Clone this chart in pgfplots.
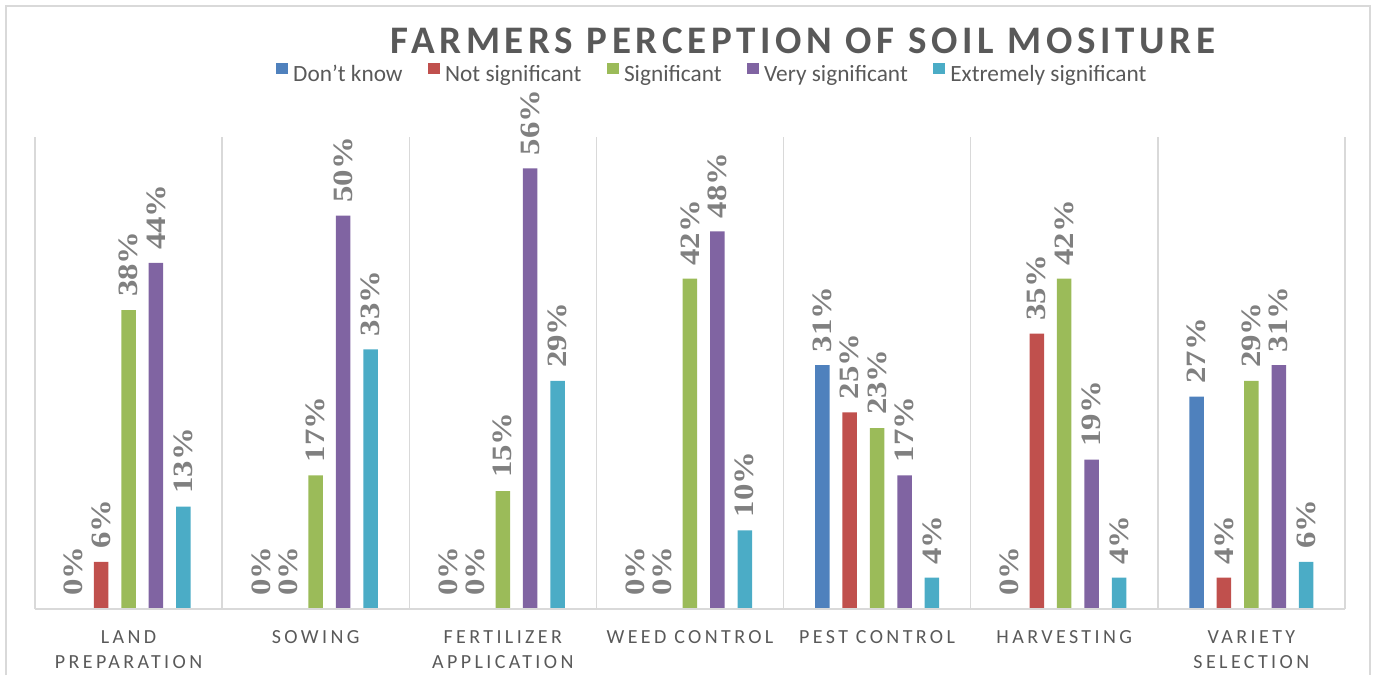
\documentclass[border=0pt]{standalone}
\usepackage{pgfplots}
\usepackage{pgfplotstable}
\pgfplotsset{compat=1.18}
\usepackage{fontspec}
\setmainfont{Carlito}
\newfontfamily\titlefont{Carlito}[LetterSpace=12]
\newfontfamily\catfont{Carlito}[LetterSpace=17]
\newfontfamily\valfont{Liberation Serif}

\definecolor{cBlue}{HTML}{4F81BD}
\definecolor{cRed}{HTML}{C0504D}
\definecolor{cGreen}{HTML}{9BBB59}
\definecolor{cPurple}{HTML}{8064A2}
\definecolor{cCyan}{HTML}{4BACC6}
\definecolor{txtgray}{HTML}{595959}
\definecolor{valgray}{HTML}{808080}
\definecolor{gridgray}{HTML}{D9D9D9}

% share of farmers (%) per activity
\pgfplotstableread{
cat dk ns sig vs es
0   0  6  38  44 13
1   0  0  17  50 33
2   0  0  15  56 29
3   0  0  42  48 10
4   31 25 23  17 4
5   0  35 42  19 4
6   27 4  29  31 6
}\soildata

\begin{document}
\begin{tikzpicture}
\path[use as bounding box] (-35pt,-66pt) rectangle (1338pt,609pt);
\draw[gridgray, line width=1.5pt] (-29pt,-66pt) -- (-29pt,603pt) -- (1335pt,603pt) -- (1335pt,-66pt);
\begin{axis}[
  at={(0pt,0pt)}, anchor=south west,
  scale only axis, width=1310pt, height=472pt,
  ybar=12.9pt, bar width=14.5pt,
  xmin=-0.5, xmax=6.5, ymin=0, ymax=60,
  axis line style={draw=none},
  ytick=\empty,
  xtick={0,...,6},
  minor xtick={-0.5,0.5,...,6.5},
  xminorgrids=true,
  minor x grid style={gridgray, line width=1.5pt},
  major tick length=0pt, minor tick length=0pt,
  xticklabels={{LAND\\PREPARATION},{SOWING},{FERTILIZER\\APPLICATION},{WEED CONTROL},{PEST CONTROL},{HARVESTING},{VARIETY\\SELECTION}},
  xticklabel style={align=center, inner sep=0pt, yshift=-21pt,
    font=\catfont\fontsize{20}{25}\selectfont, text=txtgray},
  /pgf/number format/assume math mode=true,
  nodes near coords={\pgfmathprintnumber{\pgfplotspointmeta}\%},
  every node near coord/.append style={rotate=90, xscale=1.17, anchor=west,
    font=\valfont\bfseries\fontsize{28}{28}\selectfont, text=valgray,
    inner xsep=11pt, inner ysep=0pt},
  legend columns=-1,
  legend style={at={(0.18397,1.1356)}, anchor=west, draw=none, fill=none,
    inner sep=0pt, font=\fontsize{23.3}{28}\selectfont, text=txtgray,
    nodes={inner sep=0pt},
    /tikz/every odd column/.append style={column sep=5.5pt},
    /tikz/every even column/.append style={column sep=25.5pt}},
  legend image code/.code={\fill[#1] (0pt,0pt) rectangle (11.5pt,11.5pt);},
]
\addplot[fill=cBlue, draw=none] table[x=cat, y=dk] {\soildata};
\addplot[fill=cRed, draw=none] table[x=cat, y=ns] {\soildata};
\addplot[fill=cGreen, draw=none] table[x=cat, y=sig] {\soildata};
\addplot[fill=cPurple, draw=none] table[x=cat, y=vs] {\soildata};
\addplot[fill=cCyan, draw=none] table[x=cat, y=es] {\soildata};
\legend{Don’t know, Not significant, Significant, Very significant, Extremely significant}
\draw[gridgray, line width=1.5pt] (axis cs:-0.5,0) -- (axis cs:6.5,0);
\end{axis}
\node[font=\titlefont\bfseries\fontsize{39}{39}\selectfont, text=txtgray, anchor=base]
  at (768pt,555pt) {FARMERS PERCEPTION OF SOIL MOSITURE};
\end{tikzpicture}
\end{document}
